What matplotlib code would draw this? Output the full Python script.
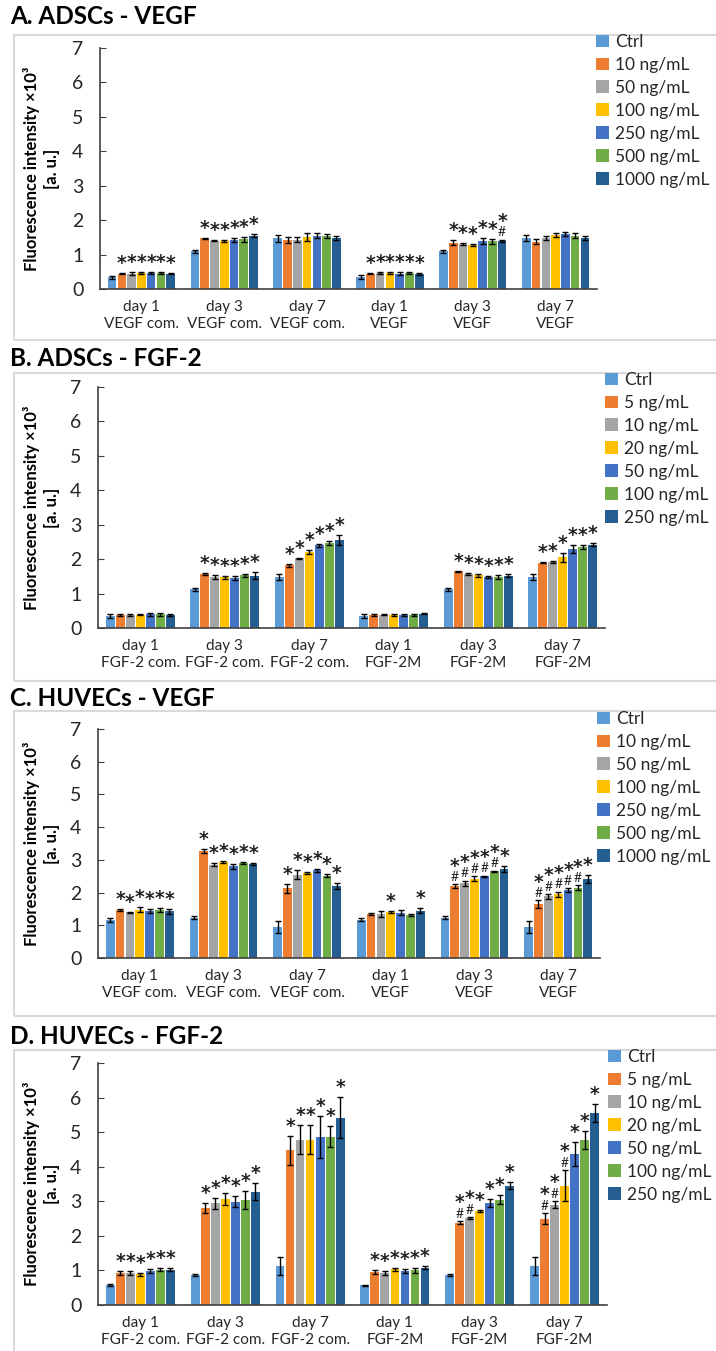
import numpy as np
import matplotlib
matplotlib.use("Agg")
import matplotlib.pyplot as plt
from matplotlib.patches import Rectangle, Patch

plt.rcParams['font.family'] = ['Lato', 'DejaVu Sans']

W, H = 716, 1351
colors = ['#5B9BD5', '#ED7D31', '#A5A5A5', '#FFC000', '#4472C4', '#70AD47', '#255E91']

vegf_groups = ['day 1\nVEGF com.', 'day 3\nVEGF com.', 'day 7\nVEGF com.',
               'day 1\nVEGF', 'day 3\nVEGF', 'day 7\nVEGF']
fgf_groups = ['day 1\nFGF-2 com.', 'day 3\nFGF-2 com.', 'day 7\nFGF-2 com.',
              'day 1\nFGF-2M', 'day 3\nFGF-2M', 'day 7\nFGF-2M']
vegf_doses = ['Ctrl', '10 ng/mL', '50 ng/mL', '100 ng/mL', '250 ng/mL', '500 ng/mL', '1000 ng/mL']
fgf_doses = ['Ctrl', '5 ng/mL', '10 ng/mL', '20 ng/mL', '50 ng/mL', '100 ng/mL', '250 ng/mL']

# rows = time point / medium, columns = dose (Ctrl first)
adsc_vegf = [[0.34, 0.45, 0.45, 0.46, 0.47, 0.46, 0.45],
             [1.10, 1.47, 1.40, 1.40, 1.42, 1.44, 1.55],
             [1.47, 1.42, 1.43, 1.52, 1.55, 1.53, 1.48],
             [0.34, 0.45, 0.46, 0.46, 0.44, 0.46, 0.44],
             [1.10, 1.35, 1.30, 1.28, 1.40, 1.38, 1.40],
             [1.48, 1.37, 1.48, 1.57, 1.60, 1.55, 1.47]]
adsc_vegf_err = [[0.05, 0.02, 0.03, 0.03, 0.03, 0.02, 0.02],
                 [0.04, 0.02, 0.02, 0.03, 0.06, 0.07, 0.05],
                 [0.10, 0.08, 0.07, 0.12, 0.08, 0.06, 0.06],
                 [0.06, 0.02, 0.03, 0.03, 0.04, 0.02, 0.02],
                 [0.04, 0.08, 0.03, 0.04, 0.08, 0.07, 0.03],
                 [0.09, 0.07, 0.06, 0.05, 0.07, 0.08, 0.06]]
adsc_vegf_sig = [['', '*', '*', '*', '*', '*', '*'],
                 ['', '*', '*', '*', '*', '*', '*'],
                 [''] * 7,
                 ['', '*', '*', '*', '*', '*', '*'],
                 ['', '*', '*', '*', '*', '*', '#*'],
                 [''] * 7]

adsc_fgf = [[0.35, 0.38, 0.37, 0.39, 0.40, 0.40, 0.38],
            [1.12, 1.57, 1.48, 1.47, 1.45, 1.53, 1.52],
            [1.48, 1.82, 2.02, 2.20, 2.40, 2.47, 2.55],
            [0.35, 0.38, 0.39, 0.38, 0.38, 0.38, 0.42],
            [1.12, 1.65, 1.58, 1.53, 1.48, 1.48, 1.52],
            [1.48, 1.90, 1.92, 2.05, 2.30, 2.35, 2.42]]
adsc_fgf_err = [[0.05, 0.02, 0.03, 0.02, 0.04, 0.04, 0.03],
                [0.04, 0.04, 0.05, 0.05, 0.07, 0.04, 0.10],
                [0.09, 0.04, 0.02, 0.06, 0.04, 0.06, 0.15],
                [0.05, 0.02, 0.02, 0.02, 0.04, 0.03, 0.02],
                [0.04, 0.02, 0.03, 0.05, 0.02, 0.05, 0.05],
                [0.09, 0.02, 0.04, 0.12, 0.12, 0.06, 0.04]]
adsc_fgf_sig = [[''] * 7,
                ['', '*', '*', '*', '*', '*', '*'],
                ['', '*', '*', '*', '*', '*', '*'],
                [''] * 7,
                ['', '*', '*', '*', '*', '*', '*'],
                ['', '*', '*', '*', '*', '*', '*']]

huvec_vegf = [[1.17, 1.48, 1.40, 1.48, 1.45, 1.47, 1.43],
              [1.23, 3.27, 2.85, 2.93, 2.80, 2.90, 2.87],
              [0.95, 2.13, 2.55, 2.60, 2.68, 2.52, 2.20],
              [1.17, 1.35, 1.35, 1.40, 1.38, 1.32, 1.45],
              [1.23, 2.20, 2.28, 2.42, 2.50, 2.65, 2.72],
              [0.95, 1.65, 1.88, 1.95, 2.07, 2.15, 2.42]]
huvec_vegf_err = [[0.06, 0.03, 0.02, 0.07, 0.06, 0.06, 0.07],
                  [0.04, 0.05, 0.05, 0.03, 0.07, 0.04, 0.02],
                  [0.18, 0.13, 0.15, 0.02, 0.04, 0.05, 0.10],
                  [0.05, 0.03, 0.10, 0.03, 0.08, 0.04, 0.08],
                  [0.04, 0.06, 0.08, 0.08, 0.02, 0.02, 0.10],
                  [0.18, 0.12, 0.08, 0.08, 0.06, 0.07, 0.12]]
huvec_vegf_sig = [['', '*', '*', '*', '*', '*', '*'],
                  ['', '*', '*', '*', '*', '*', '*'],
                  ['', '*', '*', '*', '*', '*', '*'],
                  ['', '', '', '*', '', '', '*'],
                  ['', '#*', '#*', '#*', '#*', '#*', '*'],
                  ['', '#*', '#*', '#*', '#*', '#*', '*']]

huvec_fgf = [[0.58, 0.92, 0.92, 0.89, 0.99, 1.02, 1.02],
             [0.87, 2.80, 2.94, 3.06, 2.99, 3.04, 3.28],
             [1.13, 4.47, 4.78, 4.78, 4.86, 4.87, 5.42],
             [0.57, 0.96, 0.93, 1.03, 0.98, 1.00, 1.08],
             [0.87, 2.38, 2.52, 2.73, 2.96, 3.05, 3.45],
             [1.13, 2.50, 2.90, 3.45, 4.37, 4.77, 5.55]]
huvec_fgf_err = [[0.02, 0.05, 0.05, 0.05, 0.06, 0.05, 0.05],
                 [0.04, 0.14, 0.16, 0.17, 0.15, 0.27, 0.24],
                 [0.25, 0.43, 0.42, 0.42, 0.62, 0.31, 0.59],
                 [0.02, 0.05, 0.05, 0.05, 0.05, 0.06, 0.05],
                 [0.04, 0.04, 0.02, 0.03, 0.12, 0.13, 0.10],
                 [0.25, 0.15, 0.10, 0.45, 0.35, 0.27, 0.25]]
huvec_fgf_sig = [['', '*', '*', '*', '*', '*', '*'],
                 ['', '*', '*', '*', '*', '*', '*'],
                 ['', '*', '*', '*', '*', '*', '*'],
                 ['', '*', '*', '*', '*', '*', '*'],
                 ['', '#*', '#*', '*', '*', '*', '*'],
                 ['', '#*', '#*', '#*', '*', '*', '*']]

# pixel layout of each panel: title y, box top/bottom, axes left/right, y of 0 and 7, legend x / first row y
panels = [
    dict(title='A. ADSCs - VEGF', vals=adsc_vegf, err=adsc_vegf_err, sig=adsc_vegf_sig,
         groups=vegf_groups, doses=vegf_doses,
         ty=17, box=(35, 340), ax=(100, 597, 289, 48), leg=(598, 46)),
    dict(title='B. ADSCs - FGF-2', vals=adsc_fgf, err=adsc_fgf_err, sig=adsc_fgf_sig,
         groups=fgf_groups, doses=fgf_doses,
         ty=358, box=(373, 681), ax=(98, 605, 628, 387), leg=(607, 384)),
    dict(title='C. HUVECs - VEGF', vals=huvec_vegf, err=huvec_vegf_err, sig=huvec_vegf_sig,
         groups=vegf_groups, doses=vegf_doses,
         ty=698, box=(711, 1016), ax=(98, 600, 958, 729), leg=(599, 723)),
    dict(title='D. HUVECs - FGF-2', vals=huvec_fgf, err=huvec_fgf_err, sig=huvec_fgf_sig,
         groups=fgf_groups, doses=fgf_doses,
         ty=1037, box=(1050, 1360), ax=(98, 607, 1305, 1063), leg=(610, 1061)),
]

fig = plt.figure(figsize=(W / 100, H / 100), dpi=100)
fig.patch.set_facecolor('white')

step = 0.118
bw = 0.104
dark = '#404040'

for p in panels:
    # panel frame
    top, bot = p['box']
    fig.patches.append(Rectangle((14 / W, 1 - bot / H), (W - 10) / W, (bot - top) / H,
                                 transform=fig.transFigure, fill=False,
                                 edgecolor='#d9d9d9', linewidth=1.5))
    fig.text(10 / W, 1 - p['ty'] / H, p['title'], fontsize=17.5, fontweight='bold',
             va='center', ha='left', color='black')

    x0, x1, y0, y7 = p['ax']
    ax = fig.add_axes([x0 / W, 1 - y0 / H, (x1 - x0) / W, (y0 - y7) / H])
    vals = np.array(p['vals'])
    err = np.array(p['err'])
    x = np.arange(len(p['groups']))
    for j in range(vals.shape[1]):
        xj = x + (j - 3) * step
        ax.bar(xj, vals[:, j], width=bw, color=colors[j], label=p['doses'][j], zorder=2)
        ax.errorbar(xj, vals[:, j], yerr=err[:, j], fmt='none', ecolor='black',
                    elinewidth=1, capsize=2.5, capthick=1, zorder=3)
        for g in range(len(x)):
            mark = p['sig'][g][j]
            ytop = vals[g, j] + err[g, j]
            if mark == '*':
                ax.text(xj[g], ytop + 0.0, '*', ha='center', va='bottom',
                        fontsize=13.5, fontweight='bold', color='#222222',
                        family='DejaVu Sans')
            elif mark == '#*':
                ax.text(xj[g], ytop + 0.04, '#', ha='center', va='bottom',
                        fontsize=10, color='#222222')
                ax.text(xj[g], ytop + 0.26, '*', ha='center', va='bottom',
                        fontsize=13.5, fontweight='bold', color='#222222',
                        family='DejaVu Sans')

    ax.set_xlim(-0.5, 5.5)
    ax.set_ylim(0, 7)
    ax.set_yticks(range(8))
    ax.tick_params(axis='y', direction='in', length=4, color=dark, labelsize=14,
                   labelcolor='#262626', pad=12)
    ax.set_xticks(x)
    ax.set_xticklabels(p['groups'], fontsize=11, color='#262626', linespacing=1.3)
    ax.tick_params(axis='x', length=0, pad=8)
    for s in ['top', 'right']:
        ax.spines[s].set_visible(False)
    for s in ['left', 'bottom']:
        ax.spines[s].set_color(dark)
        ax.spines[s].set_linewidth(1.2)

    # two-line axis title
    yc = 1 - (y0 + y7) / 2 / H
    fig.text(32 / W, yc, 'Fluorescence intensity \u00d710\u00b3', rotation=90,
             fontsize=12, fontweight='bold', ha='center', va='center')
    fig.text(52 / W, yc, '[a. u.]', rotation=90,
             fontsize=12, fontweight='bold', ha='center', va='center')

    lx, ly = p['leg']
    handles = [Patch(facecolor=c, edgecolor='none') for c in colors]
    fig.legend(handles, p['doses'], loc='upper left',
               bbox_to_anchor=(lx / W - 0.003, 1 - (ly - 12) / H),
               frameon=False, fontsize=12.5, handlelength=0.75, handleheight=0.75,
               handletextpad=0.35, labelspacing=0.4, borderpad=0, borderaxespad=0,
               labelcolor='#262626')

fig.savefig('out.png', dpi=100)
